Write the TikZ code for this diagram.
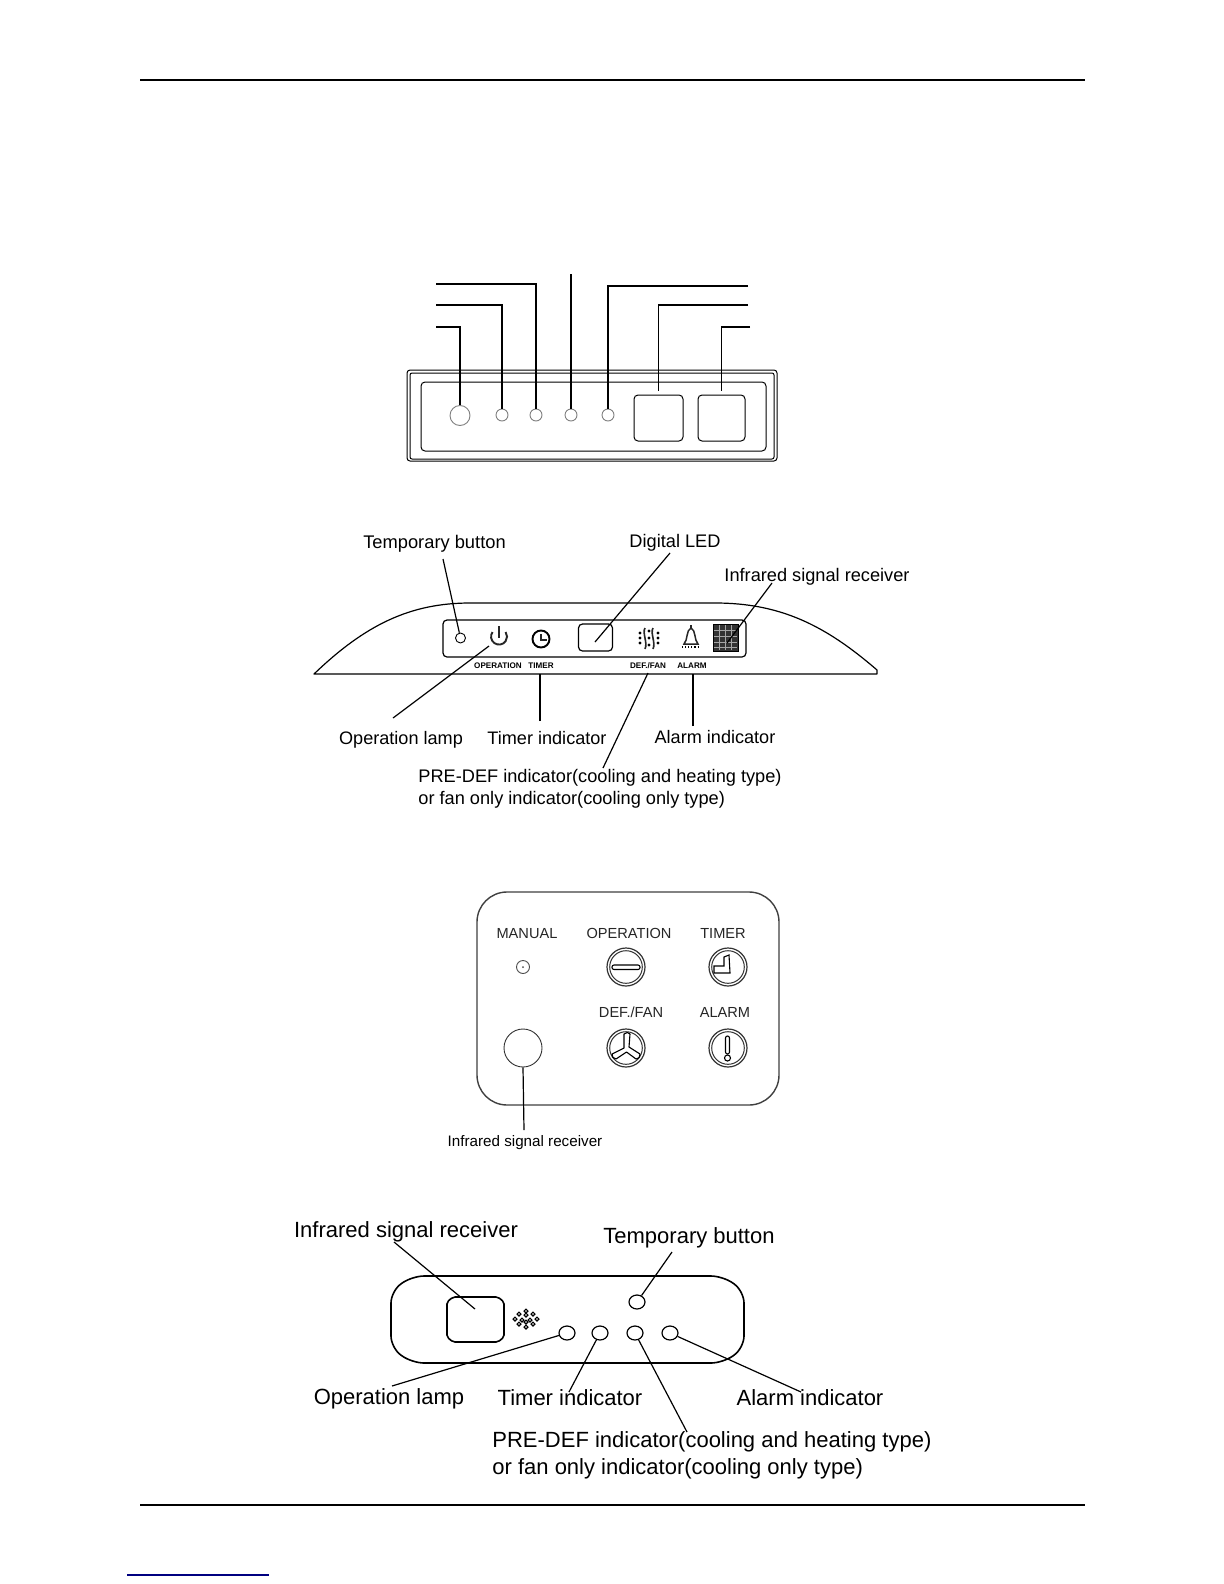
\documentclass[tikz,border=0pt]{standalone}
\usepackage{fontspec}
\usetikzlibrary{shapes.geometric}
\setmainfont{Liberation Sans}
\tikzset{
  conn/.style={draw=black,line width=0.6pt},
  rule/.style={draw=black,line width=0.7pt},
  roundc/.style={circle,draw=#1,line width=0.45pt,inner sep=0pt},
  rbox/.style={rectangle,draw=black,line width=0.6pt,rounded corners=2pt,inner sep=0pt},
  lab/.style={inner sep=0pt,text=black,font=\fontsize{#1}{#1}\selectfont},
  mlab/.style={inner sep=0pt,text=black,align=left,anchor=north west,font=\fontsize{#1}{13.5pt}\selectfont},
  tinylab/.style={inner sep=0pt,text=black,font=\fontsize{4.05}{5}\selectfont\bfseries},
  icon/.style={draw=black,line width=0.55pt},
  iconb/.style={draw=black!85,line width=0.95pt},
  oval/.style={ellipse,draw=black,line width=0.6pt,inner sep=0pt,minimum width=8pt,minimum height=7pt},
}
\begin{document}
\begin{tikzpicture}[x=0.5pt,y=-0.5pt]
\useasboundingbox (0,0) rectangle (1224,1584);
\fill[white] (0,0) rectangle (1224,1584);
% page rules
\draw[rule] (140,80) -- (1085,80);
\draw[rule] (140,1505) -- (1085,1505);
\draw[draw=blue!50!black,line width=0.7pt] (127,1575) -- (269,1575);

% ---------- panel 1 ----------
\draw[line width=0.5pt,rounded corners=1.5pt] (407,370) rectangle (777,461);
\draw[line width=0.5pt,rounded corners=1pt] (410,373) rectangle (774,459);
\draw[line width=0.5pt,rounded corners=2pt] (421,382) rectangle (766,451);
\node[roundc=black!50,minimum size=10pt] (a1) at (460,415.5) {};
\node[roundc=black!50,minimum size=6pt] (a2) at (502,415) {};
\node[roundc=black!50,minimum size=6pt] (a3) at (536,415) {};
\node[roundc=black!50,minimum size=6pt] (a4) at (571,415) {};
\node[roundc=black!50,minimum size=6pt] (a5) at (608,415) {};
\node[rbox,line width=0.5pt,minimum width=24.5pt,minimum height=23pt] (a6) at (658.5,418) {};
\node[rbox,line width=0.5pt,minimum width=23.5pt,minimum height=23pt] (a7) at (721.5,418) {};
\coordinate (b1) at (436,327);
\coordinate (b2) at (436,305);
\coordinate (b3) at (436,284);
\coordinate (b4) at (571,274);
\coordinate (b5) at (748,286);
\coordinate (b6) at (748,305);
\coordinate (b7) at (750,327);
\draw[conn] (b1) -| (a1.north);
\draw[conn] (b2) -| (a2.north);
\draw[conn] (b3) -| (a3.north);
\draw[conn] (b4) -- (a4.north);
\draw[conn] (b5) -| (a5.north);
\draw[conn,shorten >=2pt] (b6) -| (a6.north);
\draw[conn,shorten >=2pt] (b7) -| (a7.north);

% ---------- panel 2 ----------
\draw[line width=0.6pt,line join=round] (314,674) .. controls (365,625) and (410,603) .. (470,603)
  -- (715,603) .. controls (780,603) and (825,625) .. (877,670) -- (877,674) -- cycle;
\node[rbox,minimum width=151.5pt,minimum height=18.5pt] (c0) at (594.5,638.5) {};
\node[roundc=black,minimum size=5pt] (c1) at (460.5,638) {};
\coordinate (c2) at (489,646);
\draw[iconb] (492.5,632) arc[start angle=215,end angle=-35,radius=8];
\draw[iconb] (499,626) -- (499,638);
\node[roundc=black,minimum size=8.5pt,line width=0.95pt] (c3) at (541,639) {};
\draw[iconb,line width=0.7pt] (541,634) -- (541,640) -- (547,640);
\node[rbox,minimum width=17pt,minimum height=13.5pt] (c4) at (595.5,637.5) {};
\coordinate (c4t) at (595,642);
% defrost icon
\draw[iconb,line width=0.8pt] (645,628) .. controls (642,633) and (648,643) .. (645,649);
\draw[iconb,line width=0.8pt] (653,628) .. controls (650,633) and (656,643) .. (653,649);
\foreach \dx/\dy in {640/633,640/643,658/633,658/643,649/631,649/638,649/645,640/638,658/638}
  \fill (\dx,\dy) circle[radius=1.6];
% bell icon
\draw[iconb,line width=0.75pt] (684,644) .. controls (688,640) and (686,630) .. (691,628) .. controls (696,630) and (694,640) .. (698,644) -- cycle;
\draw[icon,densely dotted,line width=1.1pt] (682,647) -- (700,647);
\draw[iconb,line width=0.75pt] (691,625) -- (691,628);
% receiver
\node[rectangle,draw=black,fill=black!80,minimum width=12.5pt,minimum height=13.5pt,inner sep=0pt] (c5) at (725.5,637.5) {};
\foreach \gx in {719.5,725.5,731.5} \draw[draw=black!35,line width=0.25pt] (\gx,625) -- (\gx,650);
\foreach \gy in {630,636,642,647} \draw[draw=black!35,line width=0.25pt] (714,\gy) -- (737,\gy);
\coordinate (c6) at (727,643);
\node[tinylab] (t1) at (498,666) {OPERATION};
\node[tinylab] (t2) at (541,666) {TIMER};
\node[tinylab] (t3) at (648,666) {DEF./FAN};
\node[tinylab] (t4) at (692,666) {ALARM};
\node[lab=9.15] (d1) at (434.5,544) {Temporary button};
\node[lab=9.1] (d2) at (675,543) {Digital LED};
\node[lab=9.1] (d3) at (817,577) {Infrared signal receiver};
\node[lab=9.05] (d4) at (401,740) {Operation lamp};
\node[lab=9.05] (d5) at (547,738) {Timer indicator};
\node[lab=9.05] (d6) at (715,737) {Alarm indicator};
\node[mlab=9.1,font=\fontsize{9.1}{11pt}\selectfont] (d7) at (418,769) {PRE-DEF indicator(cooling and heating type)\\or fan only indicator(cooling only type)};
\coordinate (e1) at (443,559);
\coordinate (e2) at (670,553);
\coordinate (e3) at (772,583);
\coordinate (e4) at (393,718);
\coordinate (e5) at (540,721);
\coordinate (e6) at (693,726);
\coordinate (e7) at (603,768);
\coordinate (f5) at (540,674);
\coordinate (f6) at (693,674);
\coordinate (f7) at (648,673);
\draw[conn] (e1) -- (c1);
\draw[conn] (e2) -- (c4t);
\draw[conn] (e3) -- (c6);
\draw[conn] (e4) -- (c2);
\draw[conn] (e5) -- (f5);
\draw[conn] (e6) -- (f6);
\draw[conn] (e7) -- (f7);

% ---------- panel 3 ----------
\draw[draw=black!75,line width=0.7pt,rounded corners=15pt] (477,892) rectangle (779,1105);
\node[lab=7.3,text=black!85] (g1) at (527,934) {MANUAL};
\node[lab=7.3,text=black!85] (g2) at (629,933) {OPERATION};
\node[lab=7.3,text=black!85] (g3) at (723,933) {TIMER};
\node[lab=7.3,text=black!85] (g4) at (631,1012) {DEF./FAN};
\node[lab=7.3,text=black!85] (g5) at (725,1012) {ALARM};
\node[roundc=black!70,minimum size=6.5pt] (h1) at (523,967) {};
\fill[black!70] (h1.center) circle[radius=1];
\foreach \nm/\ix/\iy in {h2/626/967,h3/728/967,h4/626/1048,h5/728/1048}{
  \node[roundc=black!80,minimum size=19pt,line width=0.6pt] (\nm) at (\ix,\iy) {};
  \draw[draw=black!80,line width=0.5pt] (\ix,\iy) circle[radius=16.3];
}
% operation bar
\draw[icon,rounded corners=1pt] (612,965) rectangle (640,969.5);
% timer hands
\draw[icon] (714,973) -- (714,966) -- (724,966) -- (724,957) -- (729,955) -- (730,973) -- cycle;
% fan blades
\draw[icon,line join=round] (624,1048) -- (624,1034) .. controls (626,1032) and (629,1032) .. (630,1034) -- (629,1047)
  -- (640,1054) .. controls (640,1057) and (639,1059) .. (636,1059) -- (626.5,1052)
  -- (616,1059) .. controls (613,1059) and (612,1056) .. (612,1054) -- cycle;
% alarm mark
\draw[icon,rounded corners=1pt] (725.5,1036) -- (725.5,1054) -- (729.5,1054) -- (729.5,1036) -- cycle;
\draw[icon] (727.5,1058) circle[radius=3];
\node[roundc=black!80,minimum size=19pt] (h6) at (523,1048) {};
\node[lab=7.6] (g6) at (525,1143) {Infrared signal receiver};
\coordinate (g7) at (524,1130);
\draw[conn] (h6.south) -- (g7);

% ---------- panel 4 ----------
\draw[line width=0.8pt,rounded corners=6pt] (412,1276) -- (723,1276) -- (744,1291) -- (744,1348) -- (723,1363)
  -- (412,1363) -- (391,1348) -- (391,1291) -- cycle;
\draw[line width=0.8pt,rounded corners=1pt] (453,1297) -- (498,1297) -- (504,1302) -- (504,1337) -- (498,1342)
  -- (453,1342) -- (447,1337) -- (447,1302) -- cycle;
\coordinate (k0) at (475,1309);
\foreach \px/\py in {526/1311,526/1315,526/1322,526/1327,519/1314,533/1314,515/1319,537/1319,519/1324,533/1324,522/1320,530/1320}
  \draw[line width=0.6pt] (\px,\py) circle[radius=1.9];
\node[oval] (k1) at (637,1302) {};
\node[oval] (k2) at (567,1333) {};
\node[oval] (k3) at (600,1333) {};
\node[oval] (k4) at (635,1333) {};
\node[oval] (k5) at (670,1333) {};
\node[lab=11] (m1) at (406,1232) {Infrared signal receiver};
\node[lab=11] (m2) at (689,1238) {Temporary button};
\node[lab=11] (m3) at (389,1399) {Operation lamp};
\node[lab=11] (m4) at (570,1398) {Timer indicator};
\node[lab=11] (m5) at (810,1398) {Alarm indicator};
\node[mlab=11] (m6) at (492,1431) {PRE-DEF indicator(cooling and heating type)\\or fan only indicator(cooling only type)};
\coordinate (n1) at (394,1242);
\coordinate (n2) at (672,1252);
\coordinate (n3) at (392,1386);
\coordinate (n4) at (569,1392);
\coordinate (n5) at (801,1392);
\coordinate (n6) at (687,1432);
\draw[conn] (n1) -- (k0);
\draw[conn] (n2) -- (k1);
\draw[conn] (n3) -- (k2);
\draw[conn] (n4) -- (k3);
\draw[conn] (n5) -- (k5);
\draw[conn] (n6) -- (k4);
\end{tikzpicture}
\end{document}
